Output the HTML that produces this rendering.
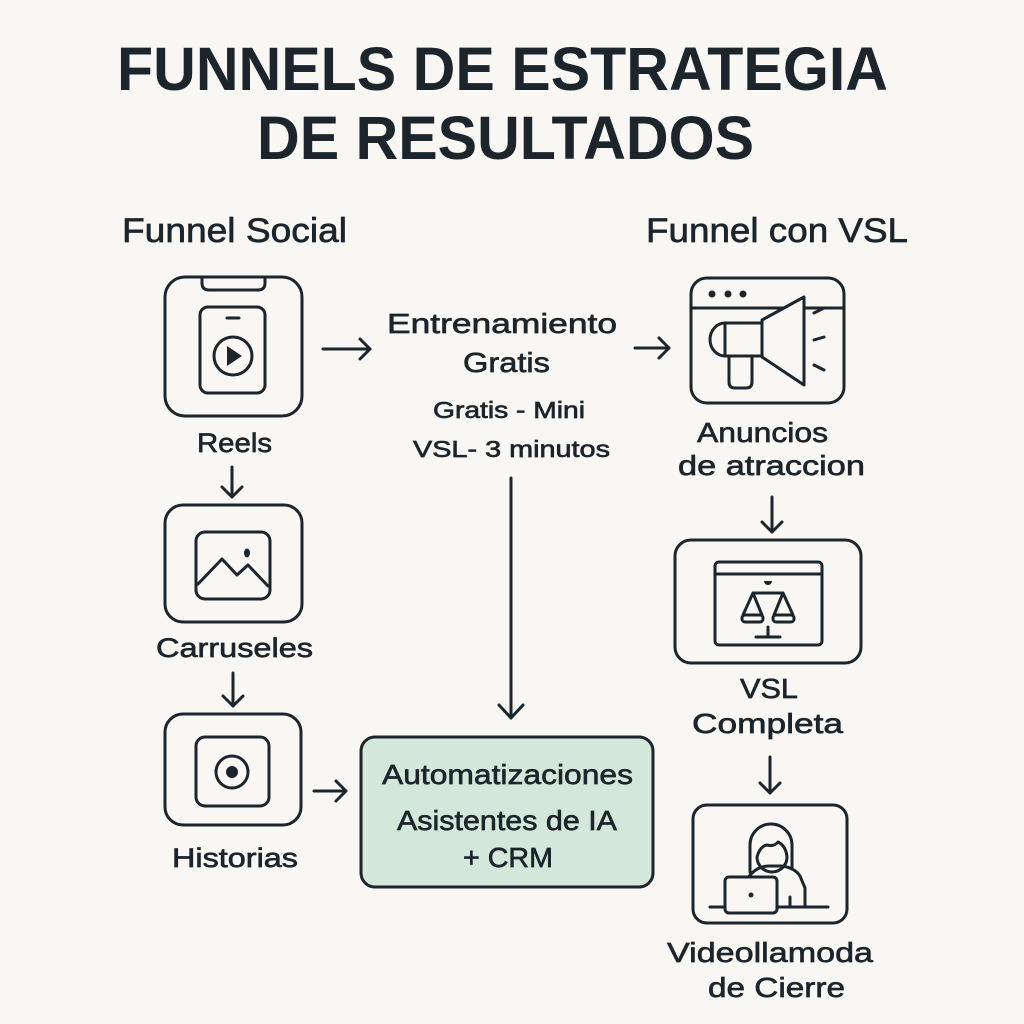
<!DOCTYPE html>
<html><head><meta charset="utf-8"><style>
html,body{margin:0;padding:0;background:#f9f7f3;}
svg{display:block;}
text{font-family:"Liberation Sans",sans-serif;fill:#1c252b;}
.lb{stroke:#1c252b;stroke-width:0.65px;}
</style></head><body>
<svg width="1024" height="1024" viewBox="0 0 1024 1024" xmlns="http://www.w3.org/2000/svg">
<rect width="1024" height="1024" fill="#f9f7f3"/>
<!-- Titles -->
<text x="117" y="90" font-size="61" font-weight="bold" textLength="771" lengthAdjust="spacingAndGlyphs">FUNNELS DE ESTRATEGIA</text>
<text x="257" y="159" font-size="61" font-weight="bold" textLength="497" lengthAdjust="spacingAndGlyphs">DE RESULTADOS</text>
<text class="lb" x="122" y="242" font-size="34" textLength="225" lengthAdjust="spacingAndGlyphs">Funnel Social</text>
<text class="lb" x="646" y="242" font-size="34" textLength="262" lengthAdjust="spacingAndGlyphs">Funnel con VSL</text>

<g fill="none" stroke="#1c252b" stroke-width="3" stroke-linecap="round" stroke-linejoin="round">
<!-- Reels -->
<rect x="165" y="277" width="137" height="139" rx="20"/>
<path d="M202,278 V283 Q202,290 209,290 H258 Q265,290 265,283 V278"/>
<rect x="200" y="307" width="65" height="86" rx="8"/>
<line x1="227" y1="318" x2="239" y2="318"/>
<circle cx="233" cy="356" r="19"/>
<!-- Carruseles -->
<rect x="165" y="505" width="137" height="117" rx="18"/>
<rect x="196" y="532" width="74" height="67" rx="9"/>
<polyline points="198,584 222,559 237,575 248,565 268,586"/>
<!-- Historias -->
<rect x="165" y="714" width="136" height="111" rx="18"/>
<rect x="196" y="737" width="73" height="69" rx="9"/>
<circle cx="232" cy="772" r="16"/>
<!-- Green box -->
<rect x="361" y="737" width="292" height="150" rx="14" fill="#d3e7da"/>
<!-- Megaphone -->
<rect x="691" y="278" width="153" height="125" rx="16"/>
<line x1="691" y1="308" x2="844" y2="308"/>
<path d="M762,320 L804,297 V385 L762,357 Z" fill="#f9f7f3"/>
<rect x="725" y="323" width="37" height="33"/>
<path d="M725,323 A15,16.5 0 0 0 725,356"/>
<path d="M729,356 V382 Q729,388 735,388 H746 Q752,388 752,382 V356"/>
<line x1="814" y1="313" x2="824" y2="308"/>
<line x1="814" y1="340" x2="824" y2="337"/>
<line x1="814" y1="365" x2="824" y2="370"/>
<!-- VSL -->
<rect x="675" y="540" width="186" height="123" rx="16"/>
<rect x="715" y="562" width="107" height="83" rx="4"/>
<line x1="715" y1="574" x2="822" y2="574"/>
<line x1="753" y1="593" x2="783" y2="593"/>
<polyline points="743,615 753,593 762,615"/>
<polyline points="774,615 783,593 793,615"/>
<rect x="742" y="615" width="21" height="7" rx="3"/>
<rect x="773" y="615" width="21" height="7" rx="3"/>
<line x1="768" y1="627" x2="768" y2="637"/>
<line x1="756" y1="637" x2="780" y2="637"/>
<!-- Videollamada -->
<rect x="693" y="805" width="154" height="118" rx="14"/>
<path d="M750,872 V845 A21,21 0 0 1 792,845 V868"/>
<path d="M748,878 Q755,867 768,866 L782,866 Q795,868 800,876 L805,888 V906"/>
<path d="M757,857 A15,15 0 1 0 787,857 Q786,846 778,842 Q774,847 767,845 Q760,846 757,857 Z"/>
<line x1="710" y1="907" x2="828" y2="907"/>
<line x1="790" y1="897" x2="790" y2="907"/>
<rect x="725" y="877" width="52" height="36" rx="4" fill="#f9f7f3"/>
<!-- Arrows -->
<line x1="323" y1="349" x2="370" y2="349"/><polyline points="360,339 370,349 360,359"/>
<line x1="635" y1="348" x2="669" y2="348"/><polyline points="659,338 669,348 659,358"/>
<line x1="314" y1="791" x2="346" y2="791"/><polyline points="336,781 346,791 336,801"/>
<line x1="232" y1="467" x2="232" y2="497"/><polyline points="222,487 232,497 242,487"/>
<line x1="233" y1="673" x2="233" y2="706"/><polyline points="223,696 233,706 243,696"/>
<line x1="772" y1="497" x2="772" y2="532"/><polyline points="762,522 772,532 782,522"/>
<line x1="770" y1="757" x2="770" y2="793"/><polyline points="760,783 770,793 780,783"/>
<line x1="511" y1="478" x2="511" y2="718"/><polyline points="499,705 511,718 523,705"/>
</g>
<g fill="#1c252b">
<polygon points="227,346 242,356 227,366"/>
<ellipse cx="247" cy="553" rx="3" ry="4.5"/>
<circle cx="232" cy="772" r="6"/>
<circle cx="712" cy="294" r="3.5"/><circle cx="728" cy="294" r="3.5"/><circle cx="743" cy="294" r="3.5"/>
<path d="M764,581 H772 A4,4 0 0 1 764,581 Z"/>
<circle cx="751" cy="895" r="2.5"/>
</g>

<!-- Labels -->
<text class="lb" x="387" y="333" font-size="28" textLength="230" lengthAdjust="spacingAndGlyphs">Entrenamiento</text>
<text class="lb" x="463" y="372" font-size="28" textLength="87" lengthAdjust="spacingAndGlyphs">Gratis</text>
<text class="lb" x="433" y="418" font-size="23" textLength="152" lengthAdjust="spacingAndGlyphs">Gratis - Mini</text>
<text class="lb" x="413" y="457" font-size="23" textLength="197" lengthAdjust="spacingAndGlyphs">VSL- 3 minutos</text>
<text class="lb" x="197" y="452" font-size="27" textLength="75" lengthAdjust="spacingAndGlyphs">Reels</text>
<text class="lb" x="156" y="657" font-size="27" textLength="157" lengthAdjust="spacingAndGlyphs">Carruseles</text>
<text class="lb" x="172" y="867" font-size="27" textLength="126" lengthAdjust="spacingAndGlyphs">Historias</text>
<text class="lb" x="382" y="784" font-size="28" textLength="251" lengthAdjust="spacingAndGlyphs">Automatizaciones</text>
<text class="lb" x="397" y="830" font-size="28" textLength="220" lengthAdjust="spacingAndGlyphs">Asistentes de IA</text>
<text class="lb" x="463" y="867" font-size="28" textLength="90" lengthAdjust="spacingAndGlyphs">+ CRM</text>
<text class="lb" x="697" y="442" font-size="28" textLength="131" lengthAdjust="spacingAndGlyphs">Anuncios</text>
<text class="lb" x="678" y="475" font-size="28" textLength="187" lengthAdjust="spacingAndGlyphs">de atraccion</text>
<text class="lb" x="740" y="698" font-size="28" textLength="58" lengthAdjust="spacingAndGlyphs">VSL</text>
<text class="lb" x="692" y="733" font-size="28" textLength="151" lengthAdjust="spacingAndGlyphs">Completa</text>
<text class="lb" x="667" y="962" font-size="28" textLength="206" lengthAdjust="spacingAndGlyphs">Videollamoda</text>
<text class="lb" x="708" y="997" font-size="28" textLength="137" lengthAdjust="spacingAndGlyphs">de Cierre</text>
</svg>
</body></html>
